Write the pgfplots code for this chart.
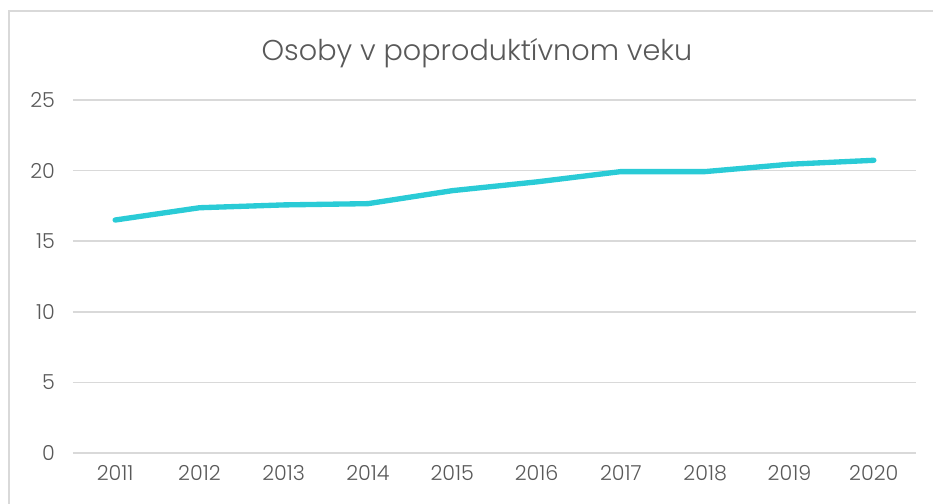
\documentclass[border=0pt]{standalone}
\usepackage{fontspec}
\setmainfont{Poppins}[UprightFont={* Light}]
\usepackage{pgfplots}
\pgfplotsset{compat=1.18}
\definecolor{linec}{RGB}{42,203,214}
\definecolor{gridc}{RGB}{217,217,217}
\definecolor{txt}{RGB}{89,89,89}
\begin{document}
\begin{tikzpicture}
\begin{axis}[
  at={(0,0)}, anchor=south west,
  scale only axis,
  width=632.25pt, height=264.75pt,
  xmin=2010.5, xmax=2020.5,
  ymin=0, ymax=25,
  xtick={2011,...,2020},
  ytick={0,5,...,25},
  xticklabel style={/pgf/number format/1000 sep={}},
  /pgf/number format/assume math mode=true,
  tick style={draw=none},
  axis line style={draw=none},
  ymajorgrids, grid style={gridc, line width=1.1pt},
  ticklabel style={font=\fontsize{15.5}{18}\selectfont, text=txt},
  yticklabel style={xshift=-10pt},
  xticklabel style={yshift=-6pt},
  clip=false,
]
\addplot[linec, line width=4pt, line join=round, line cap=round] coordinates {
(2011,16.5) (2012,17.37) (2013,17.57) (2014,17.66) (2015,18.58) (2016,19.2) (2017,19.93) (2018,19.93) (2019,20.45) (2020,20.73)
};
\end{axis}
\pgfresetboundingbox
\path[use as bounding box] (-54.75pt,-38.25pt) rectangle (645pt,339.75pt);
\draw[gridc, line width=1.3pt] (-48pt,-40pt) -- (-48pt,331.5pt) -- (650pt,331.5pt);
\node[text=txt, font=\fontsize{21.5}{24}\selectfont] at (303pt,300pt) {Osoby v poproduktívnom veku};
\end{tikzpicture}
\end{document}
